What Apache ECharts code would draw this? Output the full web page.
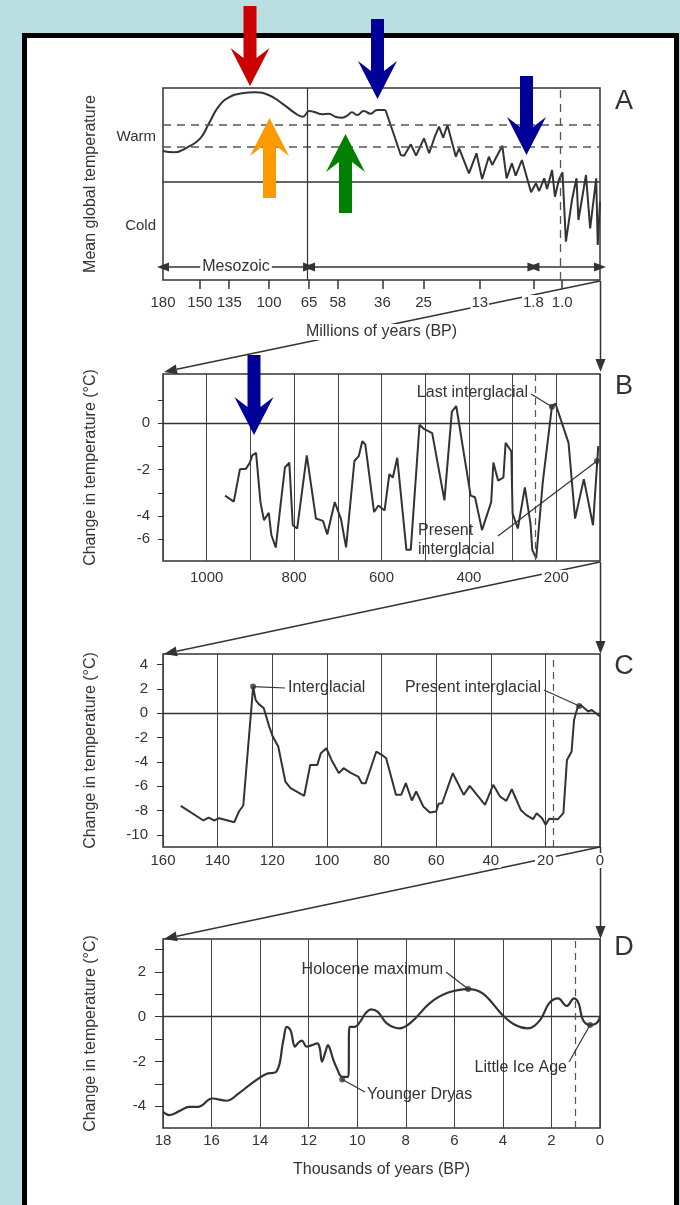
<!DOCTYPE html>
<html>
<head>
<meta charset="utf-8">
<script src="https://cdn.jsdelivr.net/npm/echarts@6.0.0/dist/echarts.min.js"></script>
<style>
  html, body { margin: 0; padding: 0; background: #b9dfe3; }
  #main { width: 680px; height: 1205px; }
</style>
</head>
<body>
<div id="main"></div>
<script>
var FONT = '"Liberation Sans", Arial, Helvetica, sans-serif';
var INK = '#333';

// ---- panel A : millions of years BP (broken, non linear axis) ----
var aTickAges = [180, 150, 135, 100, 65, 58, 36, 25, 13, 1.8, 1.0, 0];
var aTickLabels = ['180', '150', '135', '100', '65', '58', '36', '25', '13', '1.8', '1.0', ''];
var aTickPos = [0, 0.0844, 0.1516, 0.2426, 0.3343, 0.3999, 0.5022, 0.5962, 0.7248, 0.8477, 0.9133, 1];
// [age Ma, relative temperature] (0 = line between warm and cold)
var aMesozoic = [[180, 3.05], [171.5, 2.92], [159.3, 3.48], [149.8, 4.32], [145.6, 5.72], [140.5, 7.48],
  [135.4, 8.38], [123.9, 8.82], [112.1, 8.92], [100.4, 8.65], [88.7, 7.82], [77.0, 6.82], [70.6, 6.48],
  [64.9, 7.05], [63.5, 6.92], [61.8, 6.72], [60.2, 6.78], [58.6, 6.48], [56.2, 6.38], [53.4, 6.58],
  [51.0, 6.92], [48.5, 6.65], [45.2, 7.05], [41.9, 6.78], [38.6, 7.15], [35.2, 7.15]];
var aCenozoic = [[35.2, 7.15], [32.9, 4.65], [31.1, 2.65], [30.2, 2.58], [28.4, 3.72], [27.0, 2.58],
  [24.9, 4.32], [23.8, 2.82], [22.6, 4.48], [21.7, 5.48], [20.8, 4.38], [19.9, 5.65], [18.1, 2.48],
  [17.4, 3.32], [15.3, 0.82], [13.7, 2.82], [12.5, 0.25], [11.1, 2.48], [10.4, 1.65], [8.3, 3.58],
  [7.4, 0.32], [6.3, 1.82], [5.5, 0.58], [4.2, 2.15], [2.3, -1.08], [1.73, -0.18], [1.64, -0.95],
  [1.50, 0.32], [1.42, -0.75], [1.28, 1.15], [1.20, -1.52], [1.09, 0.15], [0.99, 0.92], [0.90, -6.02],
  [0.74, -1.85], [0.62, 0.32], [0.57, -3.85], [0.37, 0.65], [0.26, -4.68], [0.10, 0.32], [0.06, -6.35],
  [0, -2.02]];
var aWarmBand = [5.65, 3.45];
var aLabels = [[4.45, 'Warm'], [-4.45, 'Cold']];
var aEras = [[180, 65, 'Mesozoic'], [65, 1.8, ''], [1.8, 0, '']];
var aEraLevel = -8.55;

// ---- panel B : thousands of years BP ----
var bSeries = [[958, -3.12], [938, -3.38], [924, -1.99], [910, -1.96], [901, -1.70], [896, -1.39],
  [887, -1.28], [877, -3.40], [869, -4.18], [858, -3.86], [852, -4.82], [842, -5.36], [832, -3.69],
  [821, -1.91], [811, -1.70], [803, -4.40], [793, -4.54], [771, -1.39], [750, -4.11], [734, -4.21],
  [724, -4.79], [707, -3.40], [693, -4.11], [681, -5.35], [662, -1.63], [652, -1.42], [644, -0.78],
  [637, -0.92], [617, -3.83], [607, -3.55], [593, -3.76], [582, -2.20], [574, -2.34], [564, -1.49],
  [543, -5.46], [533, -5.46], [513, -0.07], [502, -0.26], [484, -0.43], [456, -3.33], [439, 0.50],
  [429, 0.74], [396, -3.12], [386, -3.19], [370, -4.61], [349, -3.40], [344, -1.70], [333, -2.48],
  [321, -2.34], [316, -0.85], [303, -1.21], [300, -3.90], [288, -4.54], [272, -2.77], [259, -4.33],
  [255, -5.46], [246, -5.82], [231, -2.55], [210, 0.71], [202, 0.85], [172, -0.85], [157, -4.11],
  [137, -2.41], [116, -4.40], [104, -0.99]];
var bTicks = [-5, -4, -3, -2, -1, 0, 1];
var bLabels = [[0, '0'], [-2, '-2'], [-4, '-4'], [-5, '-6']];
var bXLabels = [200, 400, 600, 800, 1000];
var bDashed = 249;

// ---- panel C : thousands of years BP ----
var cSeries = [[153.5, -7.62], [145.2, -8.82], [143.3, -8.58], [141.3, -8.82], [139.4, -8.63],
  [133.9, -8.96], [132.2, -8.08], [130.6, -7.59], [127.0, 2.19], [126.1, 1.10], [125.0, 0.77],
  [123.1, 0.41], [121.1, -1.10], [119.8, -1.92], [117.8, -2.74], [115.2, -5.62], [113.3, -6.16],
  [108.3, -6.79], [106.1, -4.25], [103.5, -4.25], [102.2, -3.29], [100.2, -2.88], [98.3, -3.84],
  [95.6, -4.93], [93.9, -4.52], [91.1, -4.93], [88.5, -5.21], [87.2, -5.75], [85.8, -5.75],
  [81.9, -3.15], [79.9, -3.42], [78.3, -3.70], [74.7, -6.71], [72.8, -6.71], [71.1, -5.75],
  [68.9, -7.18], [67.3, -6.44], [64.7, -7.67], [62.3, -8.16], [60.0, -8.08], [59.1, -7.45],
  [57.8, -7.40], [53.9, -4.93], [49.9, -6.71], [47.7, -5.97], [42.1, -7.53], [39.1, -5.89],
  [36.6, -6.85], [34.3, -7.21], [32.3, -6.25], [29.0, -7.95], [27.1, -8.36], [24.5, -8.71],
  [23.2, -8.22], [21.2, -8.63], [19.9, -9.18], [18.6, -8.68], [15.4, -8.71], [13.4, -8.22],
  [12.1, -3.84], [10.4, -3.15], [9.5, -0.55], [8.2, 0.49], [7.1, 0.68], [4.3, 0.14], [3.0, 0.27],
  [0, -0.27]];
var cTicks = [-10, -8, -6, -4, -2, 0, 2, 4];
var cDashed = 17;

// ---- panel D : thousands of years BP ----
var dSeries = [[18.0, -4.25], [17.74, -4.40], [17.3, -4.21], [16.93, -4.03], [16.56, -4.03],
  [15.97, -3.66], [15.39, -3.76], [14.88, -3.43], [14.36, -2.99], [13.77, -2.57], [13.33, -2.46],
  [13.04, -1.04], [12.9, -0.45], [12.75, -0.60], [12.56, -1.34], [12.45, -1.19], [12.28, -1.07],
  [12.08, -1.34], [11.86, -1.27], [11.64, -1.19], [11.54, -1.42], [11.45, -2.01], [11.31, -1.57],
  [11.2, -1.27], [11.13, -1.42], [10.98, -1.94], [10.84, -2.31], [10.62, -2.69], [10.37, -2.69],
  [10.32, -0.45], [10.1, -0.45], [9.88, -0.22], [9.66, 0.15], [9.44, 0.33], [9.15, 0.22],
  [8.78, -0.30], [8.27, -0.52], [7.75, -0.22], [7.02, 0.60], [6.28, 1.07], [5.43, 1.24],
  [4.82, 1.04], [4.01, 0.07], [3.49, -0.37], [2.98, -0.52], [2.47, -0.15], [2.1, 0.60],
  [1.73, 0.82], [1.37, 0.48], [1.07, 0.82], [0.88, 0.60], [0.7, -0.15], [0.41, -0.37],
  [0.15, -0.30], [0, -0.03]];
var dTicks = [-4, -3, -2, -1, 0, 1, 2, 3];
var dLabels = [-4, -2, 0, 2];
var dDashed = 1.0;

// named points: panel, text, marked point
var notes = [
  [1, 'Last interglacial', [210, 0.71]],
  [1, 'Present\ninterglacial', [107, -1.63]],
  [2, 'Interglacial', [127, 2.19]],
  [2, 'Present interglacial', [7.6, 0.6]],
  [3, 'Holocene maximum', [5.43, 1.24]],
  [3, 'Younger Dryas', [10.62, -2.81]],
  [3, 'Little Ice Age', [0.41, -0.37]]
];
// where the note text sits and where its leader starts (page pixels)
var noteLayout = [
  { x: 528, y: 393, align: 'right', from: [531, 394] },
  { x: 418, y: 540, align: 'left', from: [498, 536] },
  { x: 288, y: 688, align: 'left', from: [285, 688] },
  { x: 541, y: 688, align: 'right', from: [544, 690] },
  { x: 443, y: 970, align: 'right', from: [446, 972] },
  { x: 367, y: 1095, align: 'left', from: [365, 1092] },
  { x: 567, y: 1068, align: 'right', from: [569, 1062] }
];

// age (Ma) -> position on the broken axis of panel A
function agePos(age) {
  for (var i = 0; i < aTickAges.length - 1; i++) {
    var a0 = aTickAges[i], a1 = aTickAges[i + 1];
    if (age <= a0 && age >= a1) {
      return aTickPos[i] + (a0 - age) / (a0 - a1) * (aTickPos[i + 1] - aTickPos[i]);
    }
  }
  return age > aTickAges[0] ? 0 : 1;
}

var txt = { color: INK, fontFamily: FONT, fontSize: 15 };
function lbl(extra) { return Object.assign({}, txt, extra); }
var nameStyle = { color: INK, fontFamily: FONT, fontSize: 16 };
var gridBox = { show: true, left: 163, right: 80, borderColor: INK, borderWidth: 1.5, backgroundColor: 'transparent' };
var thin = { color: '#444', width: 1 };
var noLine = { show: false, onZero: false };
var plain = function (v) { return String(v); };

function yName(gi, name) {
  return {
    gridIndex: gi, type: 'value', name: name, nameLocation: 'middle', nameGap: 64,
    nameTextStyle: nameStyle, axisLine: noLine, splitLine: { show: false }
  };
}

var dotStyle = { color: INK };
function dotsFor(panel) {
  return notes.filter(function (n) { return n[0] === panel; }).map(function (n) { return n[2]; });
}

var solidInk = { type: 'solid', width: 1.5, color: INK };
var aMarks = [
  { yAxis: 0, lineStyle: solidInk },
  { yAxis: aWarmBand[0], lineStyle: { type: [8, 6], width: 1.5, color: '#555' } },
  { yAxis: aWarmBand[1], lineStyle: { type: [8, 6], width: 1.5, color: '#555' } },
  { xAxis: agePos(65), lineStyle: { type: 'solid', width: 1.2, color: INK } },
  { xAxis: agePos(1.0), lineStyle: { type: [8, 6], width: 1.3, color: '#555' } }
];
aEras.forEach(function (e) {
  aMarks.push([
    { coord: [agePos(e[0]), aEraLevel], symbol: 'triangle', lineStyle: solidInk, itemStyle: { color: INK } },
    { coord: [agePos(e[1]), aEraLevel], symbol: 'triangle', itemStyle: { color: INK } }
  ]);
});

var option = {
  backgroundColor: '#b9dfe3',
  animation: false,
  grid: [
    Object.assign({ top: 88, height: 192 }, gridBox),
    Object.assign({ top: 374, height: 187 }, gridBox),
    Object.assign({ top: 654, height: 193 }, gridBox),
    Object.assign({ top: 939, height: 189 }, gridBox)
  ],
  xAxis: [
    {
      gridIndex: 0, type: 'value', min: 0, max: 1,
      axisLine: noLine, splitLine: { show: false },
      axisTick: { customValues: aTickPos.slice(1, -1), length: 9, lineStyle: { color: INK, width: 1.5 } },
      axisLabel: lbl({
        customValues: aTickPos.slice(0, -1), margin: 15, backgroundColor: '#fff', padding: [0, 1],
        formatter: function (v) {
          for (var i = 0; i < aTickPos.length; i++) if (Math.abs(aTickPos[i] - v) < 1e-6) return aTickLabels[i];
          return '';
        }
      }),
      name: 'Millions of years (BP)', nameLocation: 'middle', nameGap: 44,
      nameTextStyle: Object.assign({ backgroundColor: '#fff', padding: [0, 1] }, nameStyle)
    },
    {
      gridIndex: 1, type: 'value', min: 100, max: 1100, interval: 100, inverse: true,
      axisLine: noLine, axisTick: { show: false },
      splitLine: { show: true, lineStyle: thin },
      axisLabel: lbl({ customValues: bXLabels, margin: 9, backgroundColor: '#fff', padding: [0, 2], formatter: plain })
    },
    {
      gridIndex: 2, type: 'value', min: 0, max: 160, interval: 20, inverse: true,
      axisLine: noLine, axisTick: { show: false },
      splitLine: { show: true, lineStyle: thin },
      axisLabel: lbl({ margin: 6, backgroundColor: '#fff', padding: [0, 2], formatter: plain })
    },
    {
      gridIndex: 3, type: 'value', min: 0, max: 18, interval: 2, inverse: true,
      axisLine: noLine, axisTick: { show: false },
      splitLine: { show: true, lineStyle: thin },
      axisLabel: lbl({ margin: 5, formatter: plain }),
      name: 'Thousands of years (BP)', nameLocation: 'middle', nameGap: 34, nameTextStyle: nameStyle
    }
  ],
  yAxis: [
    Object.assign(yName(0, 'Mean global temperature'), {
      min: -9.85, max: 9.35, axisTick: { show: false },
      axisLabel: lbl({
        customValues: aLabels.map(function (l) { return l[0]; }), margin: 7,
        formatter: function (v) { return v > 0 ? aLabels[0][1] : aLabels[1][1]; }
      })
    }),
    Object.assign(yName(1, 'Change in temperature (\u00b0C)'), {
      min: -5.94, max: 2.12,
      axisTick: { customValues: bTicks, length: 5, lineStyle: { color: INK } },
      axisLabel: lbl({
        customValues: bLabels.map(function (l) { return l[0]; }), margin: 13,
        formatter: function (v) {
          for (var i = 0; i < bLabels.length; i++) if (bLabels[i][0] === v) return bLabels[i][1];
          return '';
        }
      })
    }),
    Object.assign(yName(2, 'Change in temperature (\u00b0C)'), {
      min: -11, max: 4.87,
      axisTick: { customValues: cTicks, length: 6, lineStyle: { color: INK } },
      axisLabel: lbl({ customValues: cTicks, margin: 15, formatter: plain })
    }),
    Object.assign(yName(3, 'Change in temperature (\u00b0C)'), {
      min: -4.98, max: 3.48,
      axisTick: { customValues: dTicks, length: 8, lineStyle: { color: INK } },
      axisLabel: lbl({ customValues: dLabels, margin: 17, formatter: plain })
    })
  ],
  series: [
    {
      type: 'line', xAxisIndex: 0, yAxisIndex: 0, smooth: 0.5, showSymbol: false, silent: true,
      data: aMesozoic.map(function (p) { return [agePos(p[0]), p[1]]; }),
      lineStyle: { color: INK, width: 2 },
      markLine: {
        silent: true, symbol: 'none', symbolSize: [9, 12], label: { show: false },
        lineStyle: solidInk, data: aMarks
      }
    },
    {
      type: 'line', xAxisIndex: 0, yAxisIndex: 0, showSymbol: false, silent: true,
      data: aCenozoic.map(function (p) { return [agePos(p[0]), p[1]]; }),
      lineStyle: { color: INK, width: 2 }
    },
    {
      type: 'line', xAxisIndex: 1, yAxisIndex: 1, showSymbol: false, silent: true, data: bSeries,
      lineStyle: { color: INK, width: 2 },
      markLine: {
        silent: true, symbol: 'none', label: { show: false },
        data: [
          { yAxis: 0, lineStyle: { type: 'solid', color: INK, width: 1.3 } },
          { xAxis: bDashed, lineStyle: { type: [7, 5], color: '#555', width: 1.2 } }
        ]
      }
    },
    {
      type: 'line', xAxisIndex: 2, yAxisIndex: 2, showSymbol: false, silent: true, data: cSeries,
      lineStyle: { color: INK, width: 2 },
      markLine: {
        silent: true, symbol: 'none', label: { show: false },
        data: [
          { yAxis: 0, lineStyle: { type: 'solid', color: INK, width: 1.3 } },
          { xAxis: cDashed, lineStyle: { type: [7, 5], color: '#555', width: 1.2 } }
        ]
      }
    },
    {
      type: 'line', xAxisIndex: 3, yAxisIndex: 3, smooth: 0.4, showSymbol: false, silent: true, data: dSeries,
      lineStyle: { color: INK, width: 2.2 },
      markLine: {
        silent: true, symbol: 'none', label: { show: false },
        data: [
          { yAxis: 0, lineStyle: { type: 'solid', color: INK, width: 1.3 } },
          { xAxis: dDashed, lineStyle: { type: [7, 5], color: '#555', width: 1.2 } }
        ]
      }
    },
    { type: 'scatter', xAxisIndex: 1, yAxisIndex: 1, symbolSize: 6, itemStyle: dotStyle, data: dotsFor(1), z: 5 },
    { type: 'scatter', xAxisIndex: 2, yAxisIndex: 2, symbolSize: 6, itemStyle: dotStyle, data: dotsFor(2), z: 5 },
    { type: 'scatter', xAxisIndex: 3, yAxisIndex: 3, symbolSize: 6, itemStyle: dotStyle, data: dotsFor(3), z: 5 }
  ]
};

var chart = echarts.init(document.getElementById('main'));
chart.setOption(option);

// ---- drawn extras: frame, zoom connectors, coloured arrows, notes ----
function pointer(x1, y1, x2, y2) {
  var dx = x2 - x1, dy = y2 - y1, L = Math.sqrt(dx * dx + dy * dy), ux = dx / L, uy = dy / L;
  var len = 13, w = 5, bx = x2 - ux * len, by = y2 - uy * len;
  return [
    { type: 'line', z: -1, shape: { x1: x1, y1: y1, x2: bx, y2: by }, style: { stroke: INK, lineWidth: 1.5 } },
    { type: 'polygon', z: -1, shape: { points: [[x2, y2], [bx - uy * w, by + ux * w], [bx + uy * w, by - ux * w]] }, style: { fill: INK } }
  ];
}

function bigArrow(cx, tail, tip, color) {
  var dir = tip > tail ? 1 : -1, head = 38, half = 19.5, sh = 6.5, notch = 10;
  var yb = tip - dir * head, yj = yb + dir * notch;
  return {
    type: 'polygon', z: 200,
    shape: { points: [[cx - sh, tail], [cx + sh, tail], [cx + sh, yj], [cx + half, yb], [cx, tip], [cx - half, yb], [cx - sh, yj]] },
    style: { fill: color }
  };
}

function text(x, y, s, size, align, extra) {
  return {
    type: 'text', z: 10,
    style: Object.assign({
      x: x, y: y, text: s, fill: INK, font: size + 'px ' + FONT,
      align: align, verticalAlign: 'middle', textAlign: align, textVerticalAlign: 'middle'
    }, extra || {})
  };
}

var els = [
  { type: 'rect', z: -10, shape: { x: 24.5, y: 35.5, width: 652, height: 1190 }, style: { fill: '#fff', stroke: '#000', lineWidth: 5 } }
];

var boxes = [[281, 372], [562, 654], [847, 939]];
boxes.forEach(function (b) {
  els = els.concat(pointer(600.5, b[0], 600.5, b[1]));
  els = els.concat(pointer(600, b[0], 164, b[1]));
});

// era name sits on its arrow, masking the line
aEras.forEach(function (e) {
  if (!e[2]) return;
  var p = chart.convertToPixel({ gridIndex: 0 }, [(agePos(e[0]) + agePos(e[1])) / 2, aEraLevel]);
  els.push(text(p[0], p[1], e[2], 16, 'center', { backgroundColor: '#fff', padding: [0, 2] }));
});

[['A', 102], ['B', 387], ['C', 667], ['D', 948]].forEach(function (p) {
  els.push(text(624, p[1], p[0], 27, 'center'));
});

notes.forEach(function (n, i) {
  var lay = noteLayout[i];
  var p = chart.convertToPixel({ gridIndex: n[0] }, n[2]);
  els.push({ type: 'line', z: 9, shape: { x1: lay.from[0], y1: lay.from[1], x2: p[0], y2: p[1] }, style: { stroke: INK, lineWidth: 1.2 } });
  els.push(text(lay.x, lay.y, n[1], 16, lay.align, { lineHeight: 19 }));
});

els.push(bigArrow(250, 6, 86, '#cc0000'));
els.push(bigArrow(377.5, 19, 99, '#000099'));
els.push(bigArrow(526.5, 76, 155, '#000099'));
els.push(bigArrow(269.5, 198, 118, '#ff9900'));
els.push(bigArrow(345.5, 213, 134, '#008000'));
els.push(bigArrow(254, 355, 435, '#000099'));

chart.setOption({ graphic: { elements: els } });
</script>
</body>
</html>
